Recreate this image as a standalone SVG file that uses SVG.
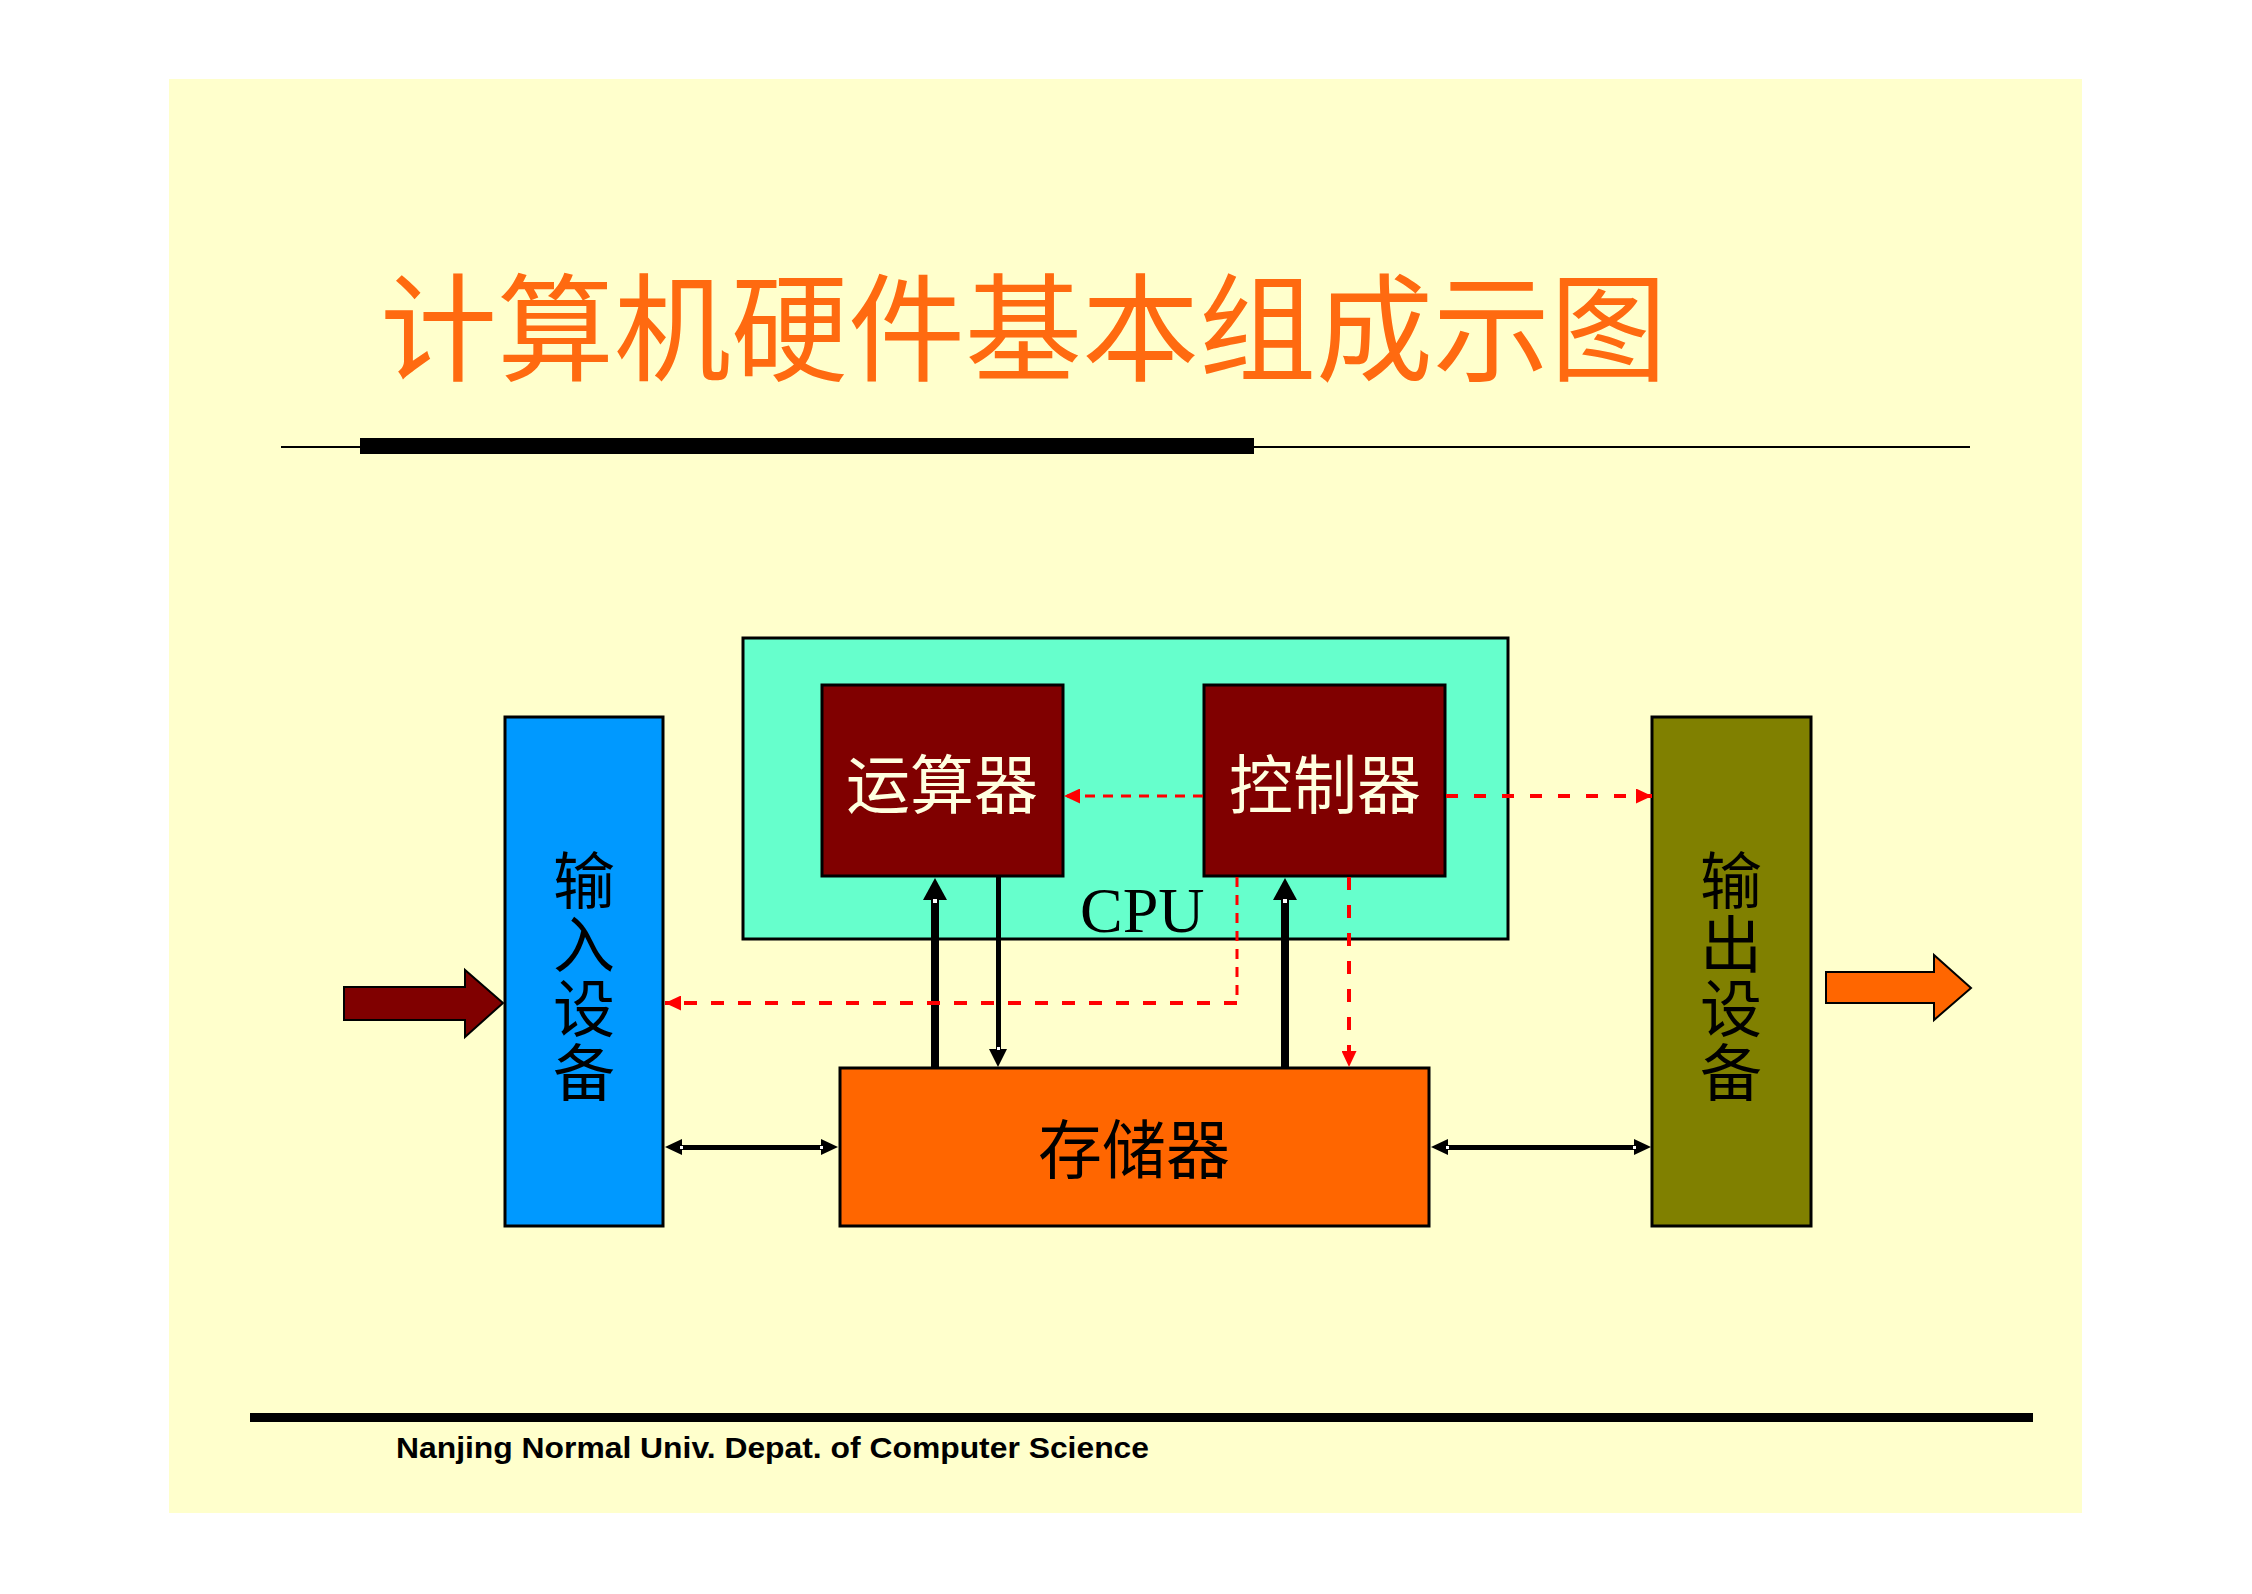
<svg xmlns="http://www.w3.org/2000/svg" width="2252" height="1594" viewBox="0 0 2252 1594">
<style>
.box{stroke:#000;stroke-width:3}
.cjk{font-family:"Noto Sans CJK SC","Noto Sans CJK JP",sans-serif}
.lbl{font-size:64px;text-anchor:middle}
.vlbl{font-size:62px;fill:#000;writing-mode:vertical-rl;letter-spacing:2px}
.dash{fill:none;stroke:#FF0000}
.blk{fill:#000}
.notch{fill:#fff}
</style>
<defs>
<marker id="rh" markerUnits="userSpaceOnUse" markerWidth="16" markerHeight="15" refX="16" refY="7.5" orient="auto">
<path d="M0,0 L16,7.5 L0,15 z" fill="#FF0000"/>
</marker>
</defs>
<rect x="0" y="0" width="2252" height="1594" fill="#FFFFFF"/>
<rect x="169" y="79" width="1913" height="1434" fill="#FFFFCC"/>
<g id="title">
<text class="cjk" x="380" y="372" font-size="117" fill="#FF6A10">计算机硬件基本组成示图</text>
<rect x="281" y="446" width="1689" height="2" fill="#000"/>
<rect x="360" y="438" width="894" height="16" fill="#000"/>
</g>
<g id="cpu">
<rect class="box" x="743" y="638" width="765" height="301" fill="#66FFCC"/>
<text x="1080" y="932" font-family="Liberation Serif, serif" font-size="64" fill="#000">CPU</text>
</g>
<g id="alu">
<rect class="box" x="822" y="685" width="241" height="191" fill="#800000"/>
<text class="cjk lbl" x="942" y="808" fill="#FFFFE0">运算器</text>
</g>
<g id="controller">
<rect class="box" x="1204" y="685" width="241" height="191" fill="#800000"/>
<text class="cjk lbl" x="1325" y="808" fill="#FFFFE0">控制器</text>
</g>
<g id="input">
<rect class="box" x="505" y="717" width="158" height="509" fill="#0099FF"/>
<text class="cjk vlbl" x="584" y="849">输入设备</text>
</g>
<g id="output">
<rect class="box" x="1652" y="717" width="159" height="509" fill="#808000"/>
<text class="cjk vlbl" x="1731" y="849">输出设备</text>
</g>
<g id="memory">
<rect class="box" x="840" y="1068" width="589" height="158" fill="#FF6600"/>
<text class="cjk lbl" x="1134" y="1173" fill="#000">存储器</text>
</g>
<g id="connectors">
<polygon points="344,987 465,987 465,970 503,1003 465,1037 465,1020 344,1020" fill="#800000" stroke="#000" stroke-width="2"/>
<polygon points="1826,972 1934,972 1934,955 1971,988 1934,1020 1934,1003 1826,1003" fill="#FF6600" stroke="#000" stroke-width="2"/>
<rect class="blk" x="931" y="898" width="8" height="169"/>
<polygon class="blk" points="935,878 923,900 947,900"/>
<rect class="notch" x="933" y="899" width="4" height="4"/>
<rect class="blk" x="996" y="876" width="5" height="175"/>
<polygon class="blk" points="989,1049 1007,1049 998,1067"/>
<rect class="notch" x="997" y="1047" width="3" height="3"/>
<rect class="blk" x="1281" y="898" width="8" height="169"/>
<polygon class="blk" points="1285,878 1273,900 1297,900"/>
<rect class="notch" x="1283" y="899" width="4" height="4"/>
<rect class="blk" x="680" y="1145" width="143" height="5"/>
<polygon class="blk" points="665,1147 682,1139 682,1155"/>
<polygon class="blk" points="838,1147 821,1139 821,1155"/>
<rect class="notch" x="680" y="1146" width="3" height="3"/>
<rect class="notch" x="820" y="1146" width="3" height="3"/>
<rect class="blk" x="1445" y="1145" width="191" height="5"/>
<polygon class="blk" points="1431,1147 1448,1139 1448,1155"/>
<polygon class="blk" points="1651,1147 1634,1139 1634,1155"/>
<rect class="notch" x="1446" y="1146" width="3" height="3"/>
<rect class="notch" x="1633" y="1146" width="3" height="3"/>
<path class="dash" d="M1203,796 H1064" stroke-width="3" stroke-dasharray="10 8" marker-end="url(#rh)"/>
<path class="dash" d="M1446,796 H1652" stroke-width="4" stroke-dasharray="12 16" marker-end="url(#rh)"/>
<path class="dash" d="M1237,877 V1003" stroke-width="3" stroke-dasharray="10 8"/>
<path class="dash" d="M1237,1003 H665" stroke-width="4" stroke-dasharray="13 14" marker-end="url(#rh)"/>
<path class="dash" d="M1349,877 V1067" stroke-width="4" stroke-dasharray="13 15" marker-end="url(#rh)"/>
</g>
<g id="footer">
<rect x="250" y="1413" width="1783" height="9" fill="#000"/>
<text x="396" y="1458" font-family="Liberation Sans, Arial, sans-serif" font-weight="bold" font-size="30" textLength="753" lengthAdjust="spacingAndGlyphs" fill="#000">Nanjing Normal Univ. Depat. of Computer Science</text>
</g>
</svg>
